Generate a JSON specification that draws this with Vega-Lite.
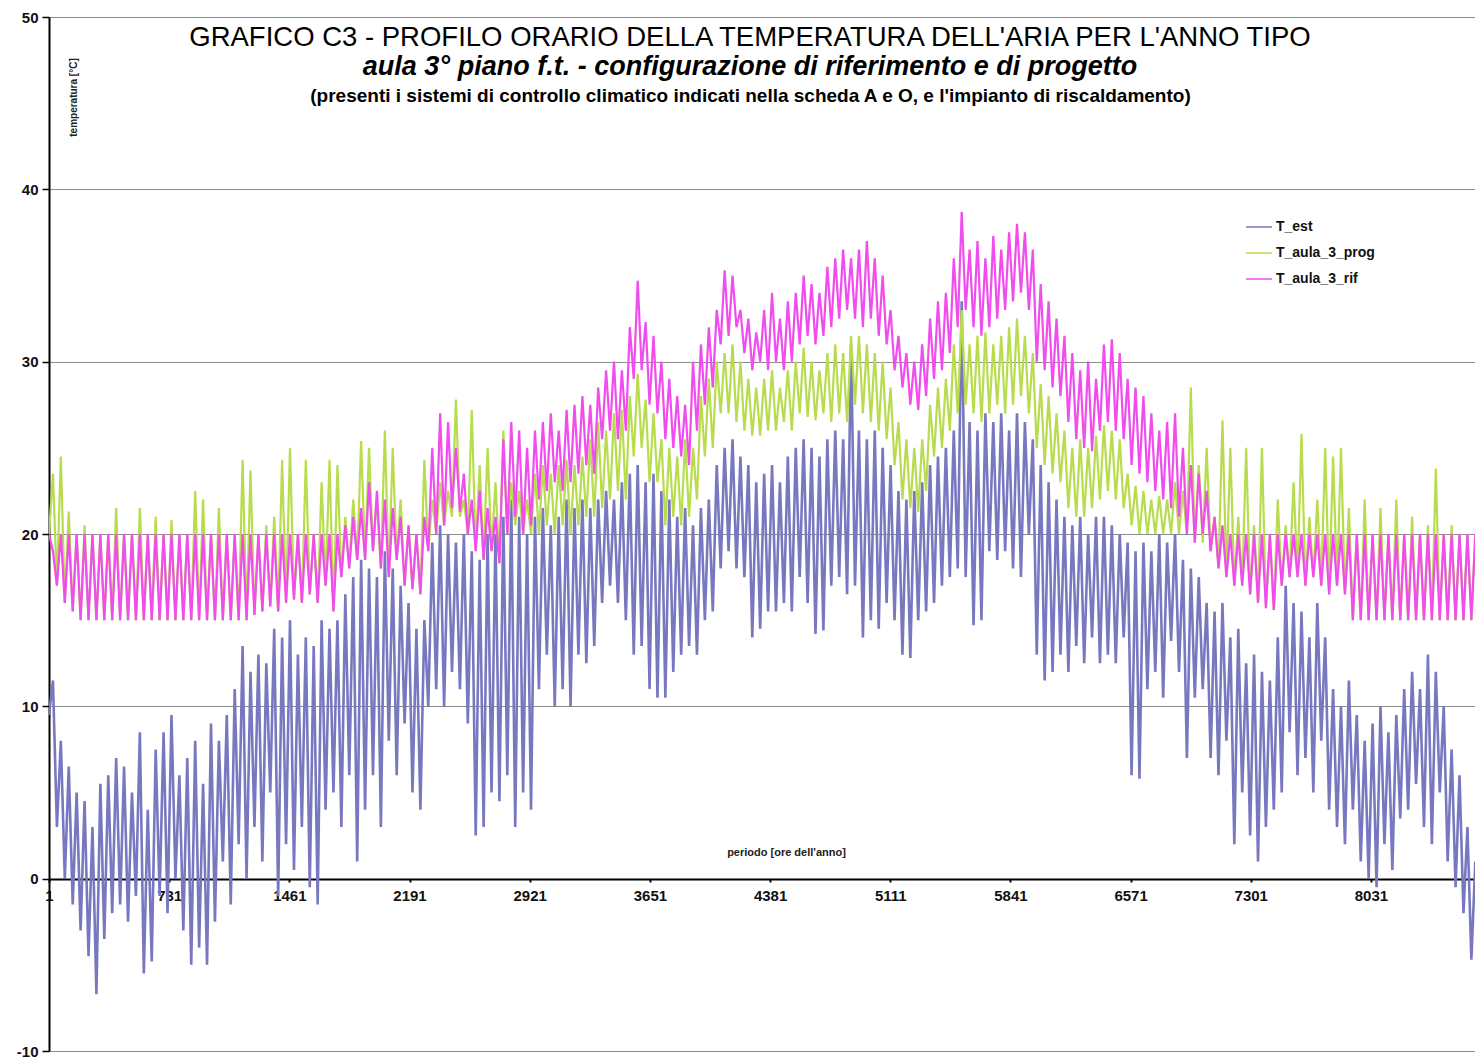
{
"$schema": "https://vega.github.io/schema/vega-lite/v6.json",
"width": 1426, "height": 1034,
"autosize": "none",
"padding": {"left": 49, "top": 17, "right": 0, "bottom": 7},
"background": "white",
"config": {"font": "Liberation Sans", "view": {"stroke": null}},
"title": {
 "text": "GRAFICO C3 - PROFILO ORARIO DELLA TEMPERATURA DELL'ARIA PER L'ANNO TIPO",
 "subtitle": "aula 3° piano f.t. - configurazione di riferimento e di progetto",
 "anchor": "middle", "frame": "group", "offset": -70, "dx": -12,
 "font": "Liberation Sans", "fontSize": 27.5, "fontWeight": "normal", "color": "black",
 "subtitleFont": "Liberation Sans", "subtitleFontSize": 27, "subtitleFontWeight": "bold", "subtitleFontStyle": "italic", "subtitleColor": "black", "subtitlePadding": 3
},
"data": {"values": [
{"h":1,"e":9.5,"p":20,"r":20},{"h":25,"e":11.5,"p":23.5,"r":19},{"h":49,"e":3,"p":17,"r":17},{"h":73,"e":8,"p":24.5,"r":20},{"h":97,"e":0,"p":16,"r":16},{"h":121,"e":6.5,"p":21.3,"r":20},{"h":145,"e":-1.5,"p":15.5,"r":15.5},{"h":169,"e":5,"p":20,"r":20},{"h":193,"e":-3,"p":15,"r":15},{"h":217,"e":4.5,"p":20.5,"r":20},{"h":241,"e":-4.5,"p":15,"r":15},{"h":265,"e":3,"p":20,"r":20},{"h":289,"e":-6.7,"p":15,"r":15},
{"h":313,"e":5.5,"p":20,"r":20},{"h":337,"e":-3.5,"p":15,"r":15},{"h":361,"e":6,"p":20,"r":20},{"h":385,"e":-2,"p":15,"r":15},{"h":409,"e":7,"p":21.5,"r":20},{"h":433,"e":-1.5,"p":15,"r":15},{"h":457,"e":6.5,"p":20,"r":20},{"h":481,"e":-2.5,"p":15,"r":15},{"h":505,"e":5,"p":20,"r":20},{"h":529,"e":-1,"p":15,"r":15},{"h":553,"e":8.5,"p":21.5,"r":20},{"h":577,"e":-5.5,"p":15,"r":15},{"h":601,"e":4,"p":20,"r":20},
{"h":625,"e":-4.8,"p":15,"r":15},{"h":649,"e":7.5,"p":21,"r":20},{"h":673,"e":-1,"p":15,"r":15},{"h":697,"e":8.5,"p":20,"r":20},{"h":721,"e":-2,"p":15,"r":15},{"h":745,"e":9.5,"p":20.8,"r":20},{"h":769,"e":0,"p":15,"r":15},{"h":793,"e":6,"p":20,"r":20},{"h":817,"e":-3,"p":15,"r":15},{"h":841,"e":7,"p":20,"r":20},{"h":865,"e":-5,"p":15,"r":15},{"h":889,"e":8,"p":22.5,"r":20},{"h":913,"e":-4,"p":15,"r":15},{"h":937,"e":5.5,"p":22,"r":20},{"h":961,"e":-5,"p":15,"r":15},
{"h":985,"e":9,"p":20,"r":20},{"h":1009,"e":-2.5,"p":15,"r":15},{"h":1033,"e":8,"p":21.5,"r":20},{"h":1057,"e":1,"p":15,"r":15},{"h":1081,"e":9.5,"p":20,"r":20},{"h":1105,"e":-1.5,"p":15,"r":15},{"h":1129,"e":11,"p":20,"r":20},{"h":1153,"e":2,"p":15,"r":15},{"h":1177,"e":13.5,"p":24.3,"r":20},{"h":1201,"e":0,"p":15,"r":15},{"h":1225,"e":12,"p":23.7,"r":20},{"h":1249,"e":3,"p":15.3,"r":15.3},{"h":1273,"e":13,"p":20,"r":20},{"h":1297,"e":1,"p":15.5,"r":15.5},{"h":1321,"e":12.5,"p":20.5,"r":20},{"h":1345,"e":5,"p":15.8,"r":15.8},{"h":1369,"e":14.5,"p":21,"r":20},{"h":1393,"e":-1,"p":15.5,"r":15.5},
{"h":1417,"e":14,"p":24.3,"r":20},{"h":1441,"e":2,"p":16,"r":16},{"h":1465,"e":15,"p":25,"r":20},{"h":1489,"e":0.5,"p":16.2,"r":16.2},{"h":1513,"e":13,"p":20,"r":20},{"h":1537,"e":3,"p":16,"r":16},{"h":1561,"e":14,"p":24.3,"r":20},{"h":1585,"e":-0.5,"p":16.5,"r":16.5},{"h":1609,"e":13.5,"p":20,"r":20},{"h":1633,"e":-1.5,"p":16,"r":16},{"h":1657,"e":15,"p":23,"r":20},{"h":1681,"e":4,"p":17,"r":17},{"h":1705,"e":14.5,"p":24.3,"r":20},{"h":1729,"e":5,"p":15.5,"r":15.5},{"h":1753,"e":15,"p":24,"r":20},{"h":1777,"e":3,"p":17.5,"r":17.5},{"h":1801,"e":16.5,"p":21,"r":20.5},{"h":1825,"e":6,"p":18,"r":18},{"h":1849,"e":17.5,"p":22,"r":21},{"h":1873,"e":1,"p":18.5,"r":18.5},{"h":1897,"e":18.5,"p":25.4,"r":21.5},
{"h":1921,"e":4,"p":18.5,"r":18.5},{"h":1945,"e":18,"p":25,"r":23},{"h":1969,"e":6,"p":19,"r":19},{"h":1993,"e":17.5,"p":22,"r":22.5},{"h":2017,"e":3,"p":18,"r":18},{"h":2041,"e":19,"p":26,"r":22},{"h":2065,"e":8,"p":17.5,"r":17.5},{"h":2089,"e":18,"p":25,"r":21.5},{"h":2113,"e":6,"p":18.5,"r":18.5},{"h":2137,"e":17,"p":22,"r":21},{"h":2161,"e":9,"p":17,"r":17},{"h":2185,"e":16,"p":20.5,"r":20.5},{"h":2209,"e":5,"p":16.8,"r":16.8},{"h":2233,"e":14.5,"p":20,"r":20},{"h":2257,"e":4,"p":16.5,"r":16.5},{"h":2281,"e":15,"p":24.3,"r":21},{"h":2305,"e":10,"p":19,"r":19},{"h":2329,"e":19.5,"p":22,"r":25},{"h":2353,"e":11,"p":20,"r":20},{"h":2377,"e":20.5,"p":23,"r":27},{"h":2401,"e":10,"p":20.5,"r":20.5},
{"h":2425,"e":20,"p":22.5,"r":26.5},{"h":2449,"e":12,"p":21,"r":21.5},{"h":2473,"e":19.5,"p":27.8,"r":25},{"h":2497,"e":11,"p":21,"r":21.3},{"h":2521,"e":20,"p":22,"r":23.5},{"h":2545,"e":9,"p":20,"r":20},{"h":2569,"e":19,"p":27.2,"r":22},{"h":2593,"e":2.5,"p":19,"r":19},{"h":2617,"e":18.5,"p":24,"r":22.5},{"h":2641,"e":3,"p":18.5,"r":18.5},{"h":2665,"e":20,"p":25,"r":21.5},{"h":2689,"e":5,"p":19,"r":19},{"h":2713,"e":20,"p":23,"r":21},{"h":2737,"e":4.5,"p":18.3,"r":18.3},{"h":2761,"e":21,"p":26,"r":25.5},{"h":2785,"e":6,"p":20,"r":20},{"h":2809,"e":22,"p":23,"r":26.5},{"h":2833,"e":3,"p":20.5,"r":21},{"h":2857,"e":21,"p":22.5,"r":26},{"h":2881,"e":5,"p":20,"r":20},{"h":2905,"e":20,"p":22,"r":25},{"h":2929,"e":4,"p":20,"r":20.5},
{"h":2953,"e":21,"p":23.5,"r":26},{"h":2977,"e":11,"p":20,"r":22},{"h":3001,"e":21.5,"p":24,"r":26.5},{"h":3025,"e":13,"p":20.5,"r":22.5},{"h":3049,"e":20.5,"p":23.5,"r":27},{"h":3073,"e":10,"p":20,"r":23},{"h":3097,"e":21,"p":24,"r":26},{"h":3121,"e":11,"p":20.5,"r":22.5},{"h":3145,"e":22,"p":24.3,"r":27.2},{"h":3169,"e":10,"p":20,"r":23},{"h":3193,"e":21.5,"p":24,"r":27.5},{"h":3217,"e":13,"p":20.5,"r":23.5},{"h":3241,"e":22,"p":24.5,"r":28},{"h":3265,"e":12.5,"p":21,"r":24},{"h":3289,"e":21.5,"p":25.5,"r":27.5},{"h":3313,"e":13.5,"p":21,"r":23.5},{"h":3337,"e":22,"p":26.5,"r":28.5},{"h":3361,"e":16,"p":21.5,"r":25.5},{"h":3385,"e":22.5,"p":26,"r":29.5},{"h":3409,"e":17,"p":22,"r":26},{"h":3433,"e":22,"p":27,"r":30},{"h":3457,"e":16,"p":22.5,"r":25.5},{"h":3481,"e":23,"p":27.2,"r":29.5},{"h":3505,"e":15,"p":22,"r":26},{"h":3529,"e":23.5,"p":28,"r":32},
{"h":3553,"e":13,"p":24.5,"r":29},{"h":3577,"e":24,"p":29.3,"r":34.7},{"h":3601,"e":13.5,"p":25,"r":29.5},{"h":3625,"e":23,"p":27.8,"r":32.3},{"h":3649,"e":11,"p":23,"r":27.5},{"h":3673,"e":23.5,"p":27,"r":31.5},{"h":3697,"e":10.5,"p":23,"r":27},{"h":3721,"e":22.5,"p":25.5,"r":30},{"h":3745,"e":10.5,"p":20.5,"r":25.5},{"h":3769,"e":22,"p":25,"r":29},{"h":3793,"e":12,"p":21,"r":25},{"h":3817,"e":21,"p":24.5,"r":28},{"h":3841,"e":13,"p":20.5,"r":24.5},{"h":3865,"e":21.5,"p":25.5,"r":27.5},{"h":3889,"e":13.5,"p":21,"r":24},
{"h":3913,"e":20.5,"p":25,"r":30},{"h":3937,"e":13,"p":22,"r":26},{"h":3961,"e":21.5,"p":28,"r":31},{"h":3985,"e":15,"p":24.5,"r":27.5},{"h":4009,"e":22,"p":29,"r":32},{"h":4033,"e":15.5,"p":25,"r":28.5},{"h":4057,"e":24,"p":30,"r":33},{"h":4081,"e":18,"p":27,"r":31},
{"h":4105,"e":25,"p":30.5,"r":35.3},{"h":4129,"e":19,"p":27,"r":31.5},{"h":4153,"e":25.5,"p":31,"r":35},{"h":4177,"e":18,"p":26.5,"r":32},{"h":4201,"e":24.5,"p":30,"r":33},{"h":4225,"e":17.5,"p":26,"r":30.5},{"h":4249,"e":24,"p":29,"r":32.5},{"h":4273,"e":14,"p":25.7,"r":29.5},{"h":4297,"e":23,"p":28.5,"r":31.7},{"h":4321,"e":14.5,"p":25.7,"r":30},{"h":4345,"e":23.5,"p":29,"r":33},{"h":4369,"e":15.5,"p":26,"r":29.5},{"h":4393,"e":24,"p":29.5,"r":34},{"h":4417,"e":15.5,"p":26,"r":30},{"h":4441,"e":23,"p":28.5,"r":32.5},{"h":4465,"e":16,"p":26.5,"r":29.5},{"h":4489,"e":24.5,"p":29.5,"r":33.5},{"h":4513,"e":15.5,"p":26,"r":30},{"h":4537,"e":25,"p":30,"r":34},{"h":4561,"e":17.5,"p":27,"r":31},{"h":4585,"e":25.5,"p":30.8,"r":35},{"h":4609,"e":16,"p":26.8,"r":31.5},{"h":4633,"e":25,"p":30,"r":34.5},{"h":4657,"e":14.2,"p":26.6,"r":31},{"h":4681,"e":24.5,"p":29.5,"r":34},{"h":4705,"e":14.4,"p":27,"r":31.5},{"h":4729,"e":25.5,"p":30.5,"r":35.5},{"h":4753,"e":17,"p":26.5,"r":32},{"h":4777,"e":26,"p":31,"r":36},{"h":4801,"e":17.5,"p":27,"r":32.5},{"h":4825,"e":25.5,"p":30.5,"r":36.5},{"h":4849,"e":16.5,"p":26.5,"r":33},{"h":4873,"e":31,"p":31.5,"r":36},{"h":4897,"e":17,"p":27.5,"r":32.5},
{"h":4921,"e":26,"p":31.5,"r":36.5},{"h":4945,"e":14,"p":27,"r":32},{"h":4969,"e":25.5,"p":31,"r":37},{"h":4993,"e":15,"p":26.5,"r":32.5},{"h":5017,"e":26,"p":30.5,"r":36},{"h":5041,"e":14.5,"p":26,"r":31.5},{"h":5065,"e":25,"p":30,"r":35},{"h":5089,"e":16,"p":25.5,"r":31},{"h":5113,"e":24,"p":28.5,"r":33},{"h":5137,"e":15,"p":24,"r":29.5},{"h":5161,"e":22.5,"p":26.5,"r":31.5},{"h":5185,"e":13,"p":22,"r":28.5},{"h":5209,"e":22,"p":25.5,"r":30.5},{"h":5233,"e":12.8,"p":21.5,"r":27.5},{"h":5257,"e":22.5,"p":25,"r":30},{"h":5281,"e":15,"p":21.3,"r":27.2},{"h":5305,"e":23,"p":25.5,"r":31},{"h":5329,"e":15.5,"p":22.5,"r":28},{"h":5353,"e":24,"p":27.5,"r":32.5},{"h":5377,"e":16,"p":24.5,"r":29},{"h":5401,"e":24.5,"p":28.5,"r":33.5},{"h":5425,"e":17,"p":25,"r":29.5},{"h":5449,"e":25,"p":29,"r":34},{"h":5473,"e":17.5,"p":26,"r":30.5},{"h":5497,"e":26,"p":31,"r":36},{"h":5521,"e":18,"p":27,"r":32},{"h":5545,"e":33.5,"p":33,"r":38.7},{"h":5569,"e":17.5,"p":27.5,"r":33},{"h":5593,"e":26.5,"p":31,"r":36.5},{"h":5617,"e":14.7,"p":27,"r":32},{"h":5641,"e":26,"p":31.5,"r":37},{"h":5665,"e":15,"p":26.5,"r":31.5},{"h":5689,"e":27,"p":31.7,"r":36},{"h":5713,"e":19,"p":27,"r":32},{"h":5737,"e":26.5,"p":31,"r":37.3},{"h":5761,"e":18.5,"p":27.5,"r":32.5},{"h":5785,"e":27,"p":31.5,"r":36.5},
{"h":5809,"e":19,"p":27,"r":33},{"h":5833,"e":26,"p":32,"r":37.5},{"h":5857,"e":18,"p":27.5,"r":33.5},{"h":5881,"e":27,"p":32.5,"r":38},{"h":5905,"e":17.5,"p":28,"r":34},{"h":5929,"e":26.5,"p":31.5,"r":37.5},{"h":5953,"e":20,"p":27,"r":33},{"h":5977,"e":25.5,"p":30.5,"r":36.5},{"h":6001,"e":13,"p":25,"r":30},{"h":6025,"e":24,"p":28.7,"r":34.5},{"h":6049,"e":11.5,"p":24,"r":29.5},{"h":6073,"e":23,"p":28,"r":33.5},{"h":6097,"e":12,"p":23.5,"r":28.5},{"h":6121,"e":22,"p":27,"r":32.5},{"h":6145,"e":13,"p":23,"r":28},{"h":6169,"e":21,"p":26,"r":31.5},{"h":6193,"e":12,"p":21.5,"r":26.5},{"h":6217,"e":20.5,"p":25,"r":30.5},{"h":6241,"e":13.5,"p":21,"r":25.5},{"h":6265,"e":21,"p":25.5,"r":29.5},{"h":6289,"e":12.5,"p":21,"r":25},{"h":6313,"e":20,"p":25,"r":30},{"h":6337,"e":14,"p":21.5,"r":24.8},{"h":6361,"e":21,"p":25.7,"r":29},{"h":6385,"e":12.5,"p":22,"r":26},{"h":6409,"e":21,"p":26.3,"r":31},{"h":6433,"e":13,"p":22.5,"r":26.5},{"h":6457,"e":20.5,"p":26,"r":31.3},{"h":6481,"e":12.5,"p":22,"r":26},{"h":6505,"e":20,"p":25.5,"r":30.5},{"h":6529,"e":14,"p":21.5,"r":25.5},{"h":6553,"e":19.5,"p":23.5,"r":29},{"h":6577,"e":6,"p":20.5,"r":24},{"h":6601,"e":19,"p":22.8,"r":28.5},{"h":6625,"e":5.8,"p":20,"r":23.5},{"h":6649,"e":19.5,"p":22.5,"r":28},{"h":6673,"e":11,"p":20,"r":23},{"h":6697,"e":19,"p":22,"r":27},{"h":6721,"e":12,"p":20,"r":22.5},{"h":6745,"e":20,"p":22.2,"r":26},{"h":6769,"e":10.5,"p":20,"r":22},{"h":6793,"e":19.5,"p":22,"r":26.5},
{"h":6817,"e":13.8,"p":20,"r":21.5},{"h":6841,"e":20,"p":23,"r":27},{"h":6865,"e":12,"p":20,"r":21},{"h":6889,"e":18.5,"p":22.5,"r":25},{"h":6913,"e":7,"p":20,"r":20},{"h":6937,"e":18,"p":28.5,"r":24},{"h":6961,"e":10.5,"p":19.5,"r":19.5},{"h":6985,"e":17.5,"p":24,"r":23.5},{"h":7009,"e":11,"p":19.5,"r":20},{"h":7033,"e":16,"p":25,"r":22.5},{"h":7057,"e":7,"p":19,"r":19},{"h":7081,"e":15.5,"p":21,"r":21},{"h":7105,"e":6,"p":18,"r":18},{"h":7129,"e":16,"p":26.6,"r":20.5},{"h":7153,"e":8,"p":17.5,"r":17.5},{"h":7177,"e":14,"p":25,"r":20},{"h":7201,"e":2,"p":17,"r":17},{"h":7225,"e":14.5,"p":21,"r":20},{"h":7249,"e":5,"p":17,"r":17},{"h":7273,"e":12.5,"p":25,"r":20},{"h":7297,"e":2.5,"p":16.5,"r":16.5},{"h":7321,"e":13,"p":20.5,"r":20},{"h":7345,"e":1,"p":16,"r":16},{"h":7369,"e":12,"p":25,"r":20},{"h":7393,"e":3,"p":15.7,"r":15.7},{"h":7417,"e":11.5,"p":20,"r":20},{"h":7441,"e":4,"p":15.6,"r":15.6},{"h":7465,"e":14,"p":22,"r":20},{"h":7489,"e":5,"p":17,"r":17},{"h":7513,"e":17,"p":20.5,"r":20},{"h":7537,"e":8.5,"p":17.5,"r":17.5},{"h":7561,"e":16,"p":23,"r":20},{"h":7585,"e":6,"p":17.5,"r":17.5},{"h":7609,"e":15.5,"p":25.8,"r":20},{"h":7633,"e":7,"p":17,"r":17},{"h":7657,"e":14,"p":21,"r":20},{"h":7681,"e":5,"p":17.5,"r":17.5},{"h":7705,"e":16,"p":22,"r":20},{"h":7729,"e":8,"p":17,"r":17},{"h":7753,"e":14,"p":25,"r":20},{"h":7777,"e":4,"p":16.5,"r":16.5},
{"h":7801,"e":11,"p":24.5,"r":20},{"h":7825,"e":3,"p":17,"r":17},{"h":7849,"e":10,"p":25,"r":20},{"h":7873,"e":2,"p":16.5,"r":16.5},{"h":7897,"e":11.5,"p":21.5,"r":20},{"h":7921,"e":4,"p":15,"r":15},{"h":7945,"e":9.5,"p":20,"r":20},{"h":7969,"e":1,"p":15,"r":15},{"h":7993,"e":8,"p":22,"r":20},{"h":8017,"e":0,"p":15,"r":15},{"h":8041,"e":9,"p":20,"r":20},{"h":8065,"e":-0.5,"p":15,"r":15},{"h":8089,"e":10,"p":21.5,"r":20},{"h":8113,"e":2,"p":15,"r":15},{"h":8137,"e":8.5,"p":20,"r":20},{"h":8161,"e":0.5,"p":15,"r":15},{"h":8185,"e":9.5,"p":22,"r":20},{"h":8209,"e":3.5,"p":15,"r":15},{"h":8233,"e":11,"p":20,"r":20},{"h":8257,"e":4,"p":15,"r":15},{"h":8281,"e":12,"p":21,"r":20},{"h":8305,"e":5.5,"p":15,"r":15},{"h":8329,"e":11,"p":20,"r":20},{"h":8353,"e":3,"p":15,"r":15},{"h":8377,"e":13,"p":20.5,"r":20},{"h":8401,"e":2,"p":15,"r":15},{"h":8425,"e":12,"p":23.8,"r":20},{"h":8449,"e":5,"p":15,"r":15},{"h":8473,"e":10,"p":20,"r":20},{"h":8497,"e":1,"p":15,"r":15},{"h":8521,"e":7.5,"p":20.5,"r":20},{"h":8545,"e":-0.5,"p":15,"r":15},{"h":8569,"e":6,"p":20,"r":20},{"h":8593,"e":-2,"p":15,"r":15},{"h":8617,"e":3,"p":20,"r":20},{"h":8641,"e":-4.7,"p":15,"r":15},{"h":8665,"e":1,"p":20,"r":20}
]},
"resolve": {"axis": {"x": "independent", "y": "independent"}},
"layer": [
 {"mark": {"type": "line", "strokeWidth": 2.6, "clip": true},
  "encoding": {
   "x": {"field": "h", "type": "quantitative", "scale": {"domain": [1, 8663], "nice": false, "zero": false},
     "axis": {"values": [1,731,1461,2191,2921,3651,4381,5111,5841,6571,7301,8031], "format": "d", "offset": -172, "grid": false,
       "domainColor": "black", "domainWidth": 2, "tickColor": "black", "tickSize": 3, "tickWidth": 2,
       "labelFont": "Liberation Sans", "labelFontSize": 15, "labelFontWeight": "bold", "labelColor": "#111", "labelPadding": 6,
       "labelOverlap": false, "labelFlush": false,
       "title": "periodo [ore dell'anno]", "titleFont": "Liberation Sans", "titleFontSize": 11, "titleFontWeight": "bold", "titleColor": "#222",
       "titleX": 737, "titleY": -27, "titleAlign": "center", "titleBaseline": "middle"}},
   "y": {"field": "e", "type": "quantitative", "scale": {"domain": [-10, 50], "nice": false, "zero": false},
     "axis": {"values": [-10,0,10,20,30,40,50], "labelExpr": "'' + datum.value", "grid": true, "gridColor": "#8c8c8c", "gridWidth": 1,
       "domainColor": "black", "domainWidth": 2, "tickColor": "black", "tickSize": 7, "tickWidth": 1.5,
       "labelFont": "Liberation Sans", "labelFontSize": 15, "labelFontWeight": "bold", "labelColor": "#111", "labelPadding": 4,
       "title": "temperatura [°C]", "titleFont": "Liberation Sans", "titleFontSize": 10, "titleFontWeight": "bold", "titleColor": "#222",
       "titleX": 24, "titleY": 80, "titleAngle": -90, "titleAlign": "center", "titleBaseline": "middle"}},
   "color": {"datum": "T_est", "type": "nominal",
     "scale": {"domain": ["T_est", "T_aula_3_prog", "T_aula_3_rif"], "range": ["#7878C0", "#B8DC4E", "#F04CEE"]},
     "legend": {"title": null, "orient": "none", "legendX": 1196, "legendY": 196, "symbolType": "stroke", "symbolSize": 676, "symbolStrokeWidth": 1.5,
       "labelFont": "Liberation Sans", "labelFontSize": 14, "labelFontWeight": "bold", "labelColor": "#111", "labelOffset": 3, "rowPadding": 5, "padding": 0}}
  }},
 {"mark": {"type": "line", "strokeWidth": 2.2, "clip": true},
  "encoding": {
   "x": {"field": "h", "type": "quantitative", "axis": null},
   "y": {"field": "p", "type": "quantitative", "axis": null},
   "color": {"datum": "T_aula_3_prog", "type": "nominal"}
  }},
 {"mark": {"type": "line", "strokeWidth": 2.2, "clip": true},
  "encoding": {
   "x": {"field": "h", "type": "quantitative",
     "axis": {"orient": "top", "labels": false, "ticks": false, "domain": false, "grid": false,
       "title": "(presenti i sistemi di controllo climatico indicati nella scheda A e O, e l'impianto di riscaldamento)",
       "titleFont": "Liberation Sans", "titleFontSize": 19, "titleFontWeight": "bold", "titleColor": "black",
       "titleX": 701, "titleY": 78, "titleAlign": "center", "titleBaseline": "middle"}},
   "y": {"field": "r", "type": "quantitative", "axis": null},
   "color": {"datum": "T_aula_3_rif", "type": "nominal"}
  }}
]
}
